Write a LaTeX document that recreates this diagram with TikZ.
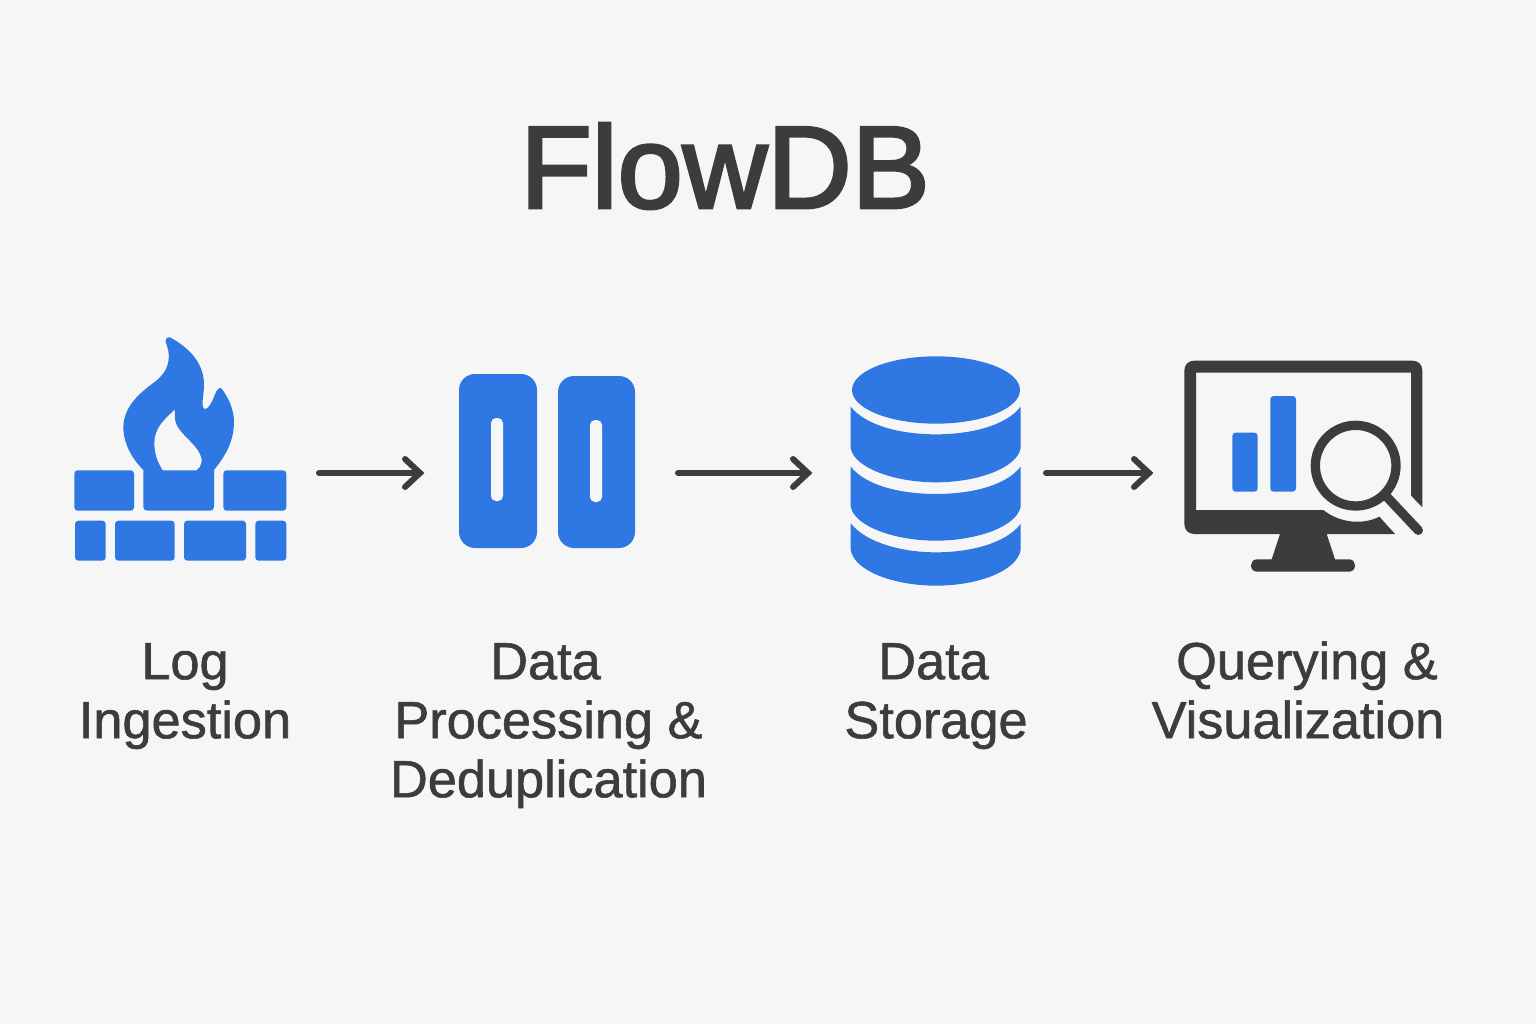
\documentclass[tikz,border=0pt]{standalone}
\usepackage{fontspec}
\setmainfont{Liberation Sans}
\newfontfamily\capfont[FakeBold=1.1]{Liberation Sans}
\newfontfamily\headfont[FakeBold=2.6]{Liberation Sans}
\definecolor{bgc}{HTML}{F6F6F6}
\definecolor{bluec}{HTML}{2F78E4}
\definecolor{darkc}{HTML}{3C3C3C}
\tikzset{
  px/.style={x=1pt,y=-1pt},
  zoomed/.style={x=0.33333pt,y=-0.33333pt},
  icon/.style={fill=bluec,draw=none},
  brick/.style={fill=bluec,draw=none,rounded corners=3.3pt},
  flow/.style={draw=darkc,line width=6pt,line cap=round,line join=miter},
  caption/.style={text=darkc,font=\capfont\fontsize{52.3}{59}\selectfont,align=center,inner sep=0pt},
  titletext/.style={text=darkc,font=\headfont\fontsize{117}{130}\selectfont,inner sep=0pt}
}
\newcommand{\firstline}{\rule{0pt}{40pt}}
\begin{document}
\begin{tikzpicture}[px]
\useasboundingbox (0,0) rectangle (1536,1024);
\fill[bgc] (0,0) rectangle (1536,1024);
\node[titletext] (title) at (725,166) {FlowDB};
% ingestion icon
\begin{scope}[shift={(60,330)},zoomed]
 \fill[icon,even odd rule,rounded corners=0pt]
  (330,22) .. controls (390,55) and (432,100) .. (432,165)
  .. controls (432,190) and (424,220) .. (430,234)
  .. controls (437,245) and (450,228) .. (458,210)
  .. controls (466,190) and (472,172) .. (483,174)
  .. controls (505,200) and (522,240) .. (522,275)
  .. controls (522,340) and (490,385) .. (462,420)
  -- (462,530) .. controls (462,538) and (458,542) .. (450,542)
  -- (262,542) .. controls (254,542) and (250,538) .. (250,530)
  -- (250,420) .. controls (215,385) and (190,340) .. (190,290)
  .. controls (192,225) and (245,185) .. (285,155)
  .. controls (325,125) and (335,85) .. (320,45)
  .. controls (312,30) and (320,20) .. (330,22) -- cycle
  (345,238) .. controls (310,270) and (283,295) .. (283,340)
  .. controls (283,375) and (295,400) .. (308,421)
  -- (410,421) .. controls (425,410) and (430,390) .. (420,372)
  .. controls (405,340) and (365,315) .. (350,285)
  .. controls (342,268) and (345,250) .. (345,238) -- cycle;
 \fill[brick] (43,421) rectangle (222,542);
 \fill[brick] (490,421) rectangle (679,542);
 \fill[brick] (45,572) rectangle (137,692);
 \fill[brick] (165,572) rectangle (344,692);
 \fill[brick] (372,572) rectangle (558,692);
 \fill[brick] (586,572) rectangle (679,692);
\end{scope}
% processing icon
\fill[icon,rounded corners=16pt] (459,374) rectangle (537,548);
\fill[icon,rounded corners=16pt] (558,376) rectangle (635,548);
\fill[bgc,rounded corners=5pt] (491,418) rectangle (503,501);
\fill[bgc,rounded corners=5pt] (590,420) rectangle (602,502);
% storage icon
\begin{scope}[shift={(830,345)},zoomed]
 \fill[icon] (318,135) ellipse [x radius=252,y radius=101];
 \fill[icon] (62,185) .. controls (110,245) and (220,268) .. (318,268)
   .. controls (416,268) and (525,245) .. (572,185) -- (572,310)
   .. controls (560,370) and (440,412) .. (318,412)
   .. controls (196,412) and (74,370) .. (62,310) -- cycle;
 \fill[icon] (62,365) .. controls (110,425) and (220,447) .. (318,447)
   .. controls (416,447) and (525,425) .. (572,365) -- (572,485)
   .. controls (560,545) and (440,587) .. (318,587)
   .. controls (196,587) and (74,545) .. (62,485) -- cycle;
 \fill[icon] (62,535) .. controls (110,595) and (220,622) .. (318,622)
   .. controls (416,622) and (525,597) .. (572,537) -- (572,615)
   .. controls (560,680) and (440,722) .. (318,722)
   .. controls (196,722) and (74,680) .. (62,615) -- cycle;
\end{scope}
% query icon
\begin{scope}[shift={(1170,350)},zoomed]
 \fill[darkc]
  (73,32) -- (727,32) .. controls (745,32) and (757,44) .. (757,62)
  -- (757,472) -- (723,437) -- (723,68) -- (78,68) -- (78,480) -- (460,480)
  .. controls (510,520) and (580,525) .. (628,500)
  -- (675,552) -- (470,552) -- (495,628) -- (537,628)
  .. controls (549,628) and (555,637) .. (555,646)
  .. controls (555,656) and (549,665) .. (537,665)
  -- (261,665) .. controls (249,665) and (243,656) .. (243,646)
  .. controls (243,637) and (249,628) .. (261,628)
  -- (305,628) -- (330,552) -- (73,552)
  .. controls (55,552) and (43,540) .. (43,522) -- (43,62)
  .. controls (43,44) and (55,32) .. (73,32) -- cycle;
 \fill[icon,rounded corners=3.3pt] (187,248) rectangle (263,425);
 \fill[icon,rounded corners=3.3pt] (301,138) rectangle (378,425);
 \draw[darkc,line width=9.3pt] (557,347) circle [radius=121];
 \draw[darkc,line width=9.3pt,line cap=round] (650,440) -- (745,541);
\end{scope}
% connector anchors
\coordinate (a1) at (319,473);
\coordinate (b1) at (420,473);
\coordinate (a2) at (678,473);
\coordinate (b2) at (808,473);
\coordinate (a3) at (1046,473);
\coordinate (b3) at (1149,473);
\foreach \s/\e in {a1/b1,a2/b2,a3/b3}{
  \draw[flow] (\s) -- (\e);
  \draw[flow] ([shift={(-15,-14)}]\e) -- (\e) -- ([shift={(-15,14)}]\e);
}
% captions
\node[caption,anchor=north] (c1) at (185,639) {\firstline Log\\Ingestion};
\node[caption,anchor=north] (c2) at (548.5,639) {\firstline Data\hspace*{6pt}\\Processing \&\\Deduplication};
\node[caption,anchor=north] (c3) at (936,639) {\firstline Data\hspace*{5pt}\\Storage};
\node[caption,anchor=north] (c4) at (1298,639) {\firstline\hspace*{18pt}Querying \&\\Visualization};
\end{tikzpicture}
\end{document}
